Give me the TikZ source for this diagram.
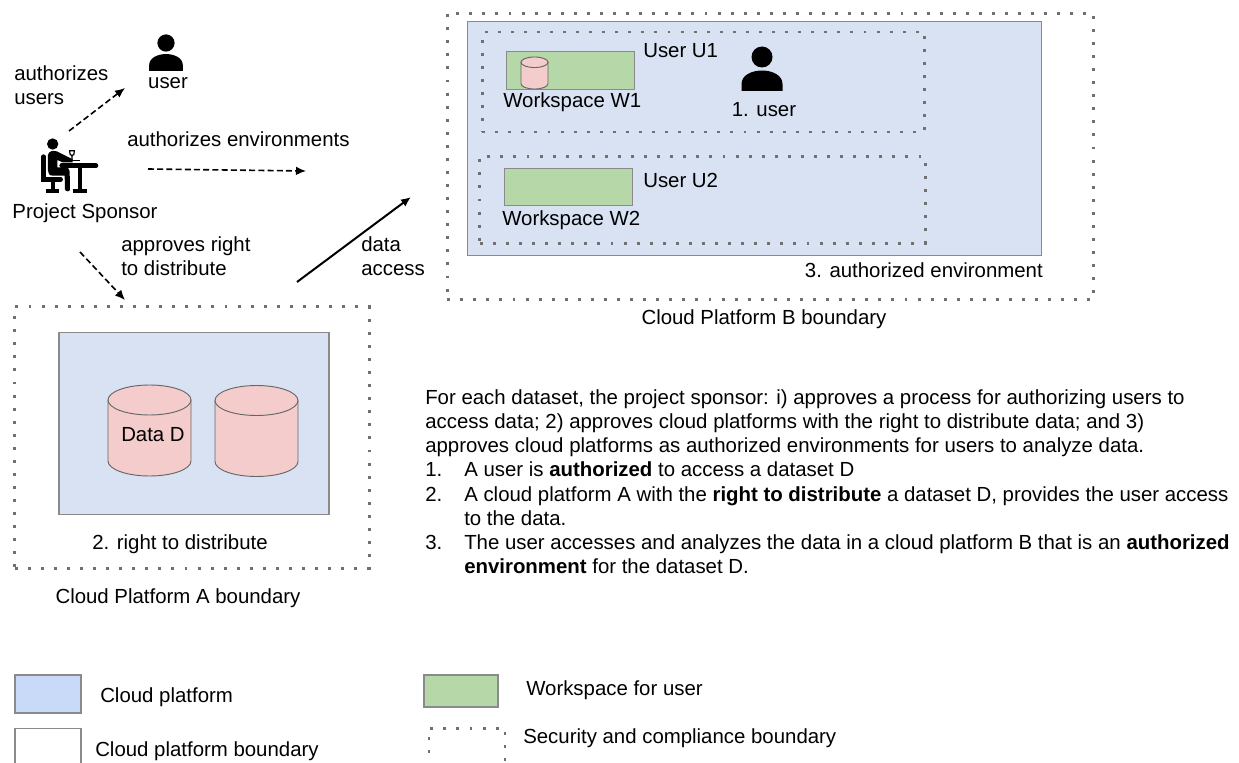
\documentclass[tikz,border=0pt]{standalone}
\usepackage{fontspec}
\setmainfont{Liberation Sans}
\usetikzlibrary{arrows.meta}

\definecolor{platformfill}{HTML}{D9E2F3}
\definecolor{legendfill}{HTML}{C9DAF8}
\definecolor{workfill}{HTML}{B6D7A8}
\definecolor{datafill}{HTML}{F4CCCC}
\definecolor{edgegray}{HTML}{8A8A8A}
\definecolor{dotgray}{HTML}{707070}

\newcommand{\itemnum}[1]{\makebox[29.25pt][l]{#1}}

\tikzset{
  box/.style = {draw=edgegray, line width=0.9pt, rectangle, inner sep=0pt},
  platform/.style = {box, fill=platformfill},
  workspace/.style = {box, fill=workfill},
  boundary/.style = {rectangle, inner sep=0pt, draw=dotgray, line width=2.2pt, dash pattern=on 2.2pt off 7.6pt},
  label/.style = {inner sep=0pt, anchor=west, align=left},
  mid/.style = {inner sep=0pt, align=center},
  para/.style = {inner sep=0pt, anchor=north west, align=left},
  dasharrow/.style = {->, line width=1.2pt, dash pattern=on 4.5pt off 2.4pt},
  datadrum/.pic = {
    \filldraw[draw=black!60, line width=0.7pt, fill=datafill] (-41.5,-30.5) -- (-41.5,30.5)
      .. controls (-41.5,38.8) and (-22.9,45.5) .. (0,45.5)
      .. controls (22.9,45.5) and (41.5,38.8) .. (41.5,30.5) -- (41.5,-30.5) -- cycle;
    \filldraw[draw=black!60, line width=0.7pt, fill=datafill] (0,-30.5) ellipse (41.5 and 15);
  },
  usericon/.pic = {
    \fill (0,0) circle (10.5);
    \fill (-20.5,34) -- (-20.5,27) .. controls (-20.5,18) and (-10,13.5) .. (0,13.5)
      .. controls (10,13.5) and (20.5,18) .. (20.5,27) -- (20.5,34) -- cycle;
  },
  sponsoricon/.pic = {
    % person at the desk, in units of a third of a pixel
    \fill (68,42) circle (17);
    \fill (54,74) .. controls (56,64) and (70,60) .. (80,64) -- (128,88) -- (128,97) -- (98,97)
      -- (82,90) -- (82,112) -- (106,112) .. controls (114,112) and (119,117) .. (119,124)
      -- (120,178) .. controls (120,186) and (106,186) .. (105,178) -- (104,137) -- (68,137)
      .. controls (58,137) and (54,130) .. (54,122) -- cycle;
    \draw[line width=3.4pt, line cap=round] (40,80) -- (40,148) -- (92,148);
    \draw[line width=3.2pt] (70,150) -- (70,182) (48,182) -- (88,182);
    \draw[line width=3.4pt, line cap=round] (95,107) -- (198,107);
    \draw[line width=3.4pt] (150,107) -- (150,182);
    \draw[line width=3.2pt] (128,182) -- (172,182);
    \draw[line width=0.9pt] (119,62) -- (120,72) -- (126,78) -- (132,72) -- (133,62) -- cycle (126,78) -- (126,90);
    \draw[line width=1.2pt] (126,92) -- (150,92);
  }
}

\begin{document}
\begin{tikzpicture}[x=0.75pt, y=-0.75pt, font=\fontsize{15.3}{18.2}\selectfont, >={Latex[length=7.5pt,width=6.5pt]}]
  \path[use as bounding box, clip] (0,0) rectangle (1239,763);

  % cloud platform A
  \node[boundary, minimum width=266pt, minimum height=196pt] (bounda) at (192,437.5) {};
  \node[platform, minimum width=202.5pt, minimum height=137pt] (plata) at (194,423.5) {};
  \pic at (149.5,430.5) {datadrum};
  \pic at (256.5,431) {datadrum};
  \node[mid] (datad) at (153,435) {Data D};
  \node[mid] (rightd) at (180,544) {2. right to distribute};
  \node[mid] (namea) at (178,598) {Cloud Platform A boundary};

  % cloud platform B
  \node[boundary, minimum width=485pt, minimum height=215pt] (boundb) at (770.5,156.5) {};
  \node[platform, minimum width=431pt, minimum height=175pt] (platb) at (754.5,138.5) {};
  \node[boundary, minimum width=332pt, minimum height=75pt] (userb1) at (703.5,82) {};
  \node[boundary, minimum width=334pt, minimum height=65pt] (userb2) at (702.5,200) {};
  \node[workspace, minimum width=96.5pt, minimum height=28pt] (work1) at (570.5,70.5) {};
  \node[workspace, minimum width=96.5pt, minimum height=27.5pt] (work2) at (568.5,187) {};
  \pic[xscale=0.325, yscale=0.352] at (534.5,73) {datadrum};
  \node[label] (namew1) at (503,102) {Workspace W1};
  \node[label] (nameu1) at (643,51) {User U1};
  \node[label] (namew2) at (502,220) {Workspace W2};
  \node[label] (nameu2) at (643,180) {User U2};
  \pic at (762,57) {usericon};
  \node[mid] (user1) at (764,110) {1. user};
  \node[label, anchor=east] (authenv) at (1043,270) {3. authorized environment};
  \node[mid] (nameb) at (764,319) {Cloud Platform B boundary};

  % sponsor and what it authorizes
  \pic[scale=0.3333] at (30,130) {sponsoricon};
  \node[mid] (sponsor) at (85,213) {Project Sponsor};
  \pic[scale=0.82] at (166,43) {usericon};
  \node[mid] (user) at (168,83) {user};
  \node[label] (authu) at (14,85) {authorizes\\users};
  \node[label] (authe) at (127,139) {authorizes environments};
  \node[label] (appr) at (121,256) {approves right\\to distribute};
  \node[label] (acc) at (361,256) {data\\access};

  \coordinate (u0) at (69,131);
  \coordinate (u1) at (125,88);
  \coordinate (e0) at (148,169);
  \coordinate (e1) at (306,171);
  \coordinate (r0) at (80,252);
  \coordinate (r1) at (125,300);
  \coordinate (d0) at (297,282);
  \coordinate (d1) at (411,197);

  \path
  (u0) edge[draw, dasharrow] (u1)
  (e0) edge[draw, dasharrow] (e1)
  (r0) edge[draw, dasharrow] (r1)
  (d0) edge[draw, ->, line width=1.5pt] (d1);

  % explanation
  \node[para] (intro) at (425,389) {For each dataset, the project sponsor: i) approves a process for authorizing users to\\
    access data; 2) approves cloud platforms with the right to distribute data; and 3)\\
    approves cloud platforms as authorized environments for users to analyze data.\\
    \itemnum{1.}A user is \textbf{authorized} to access a dataset D\\
    \itemnum{2.}A cloud platform A with the \textbf{right to distribute} a dataset D, provides the user access\\
    \itemnum{}to the data.\\
    \itemnum{3.}The user accesses and analyzes the data in a cloud platform B that is an \textbf{authorized}\\
    \itemnum{}\textbf{environment} for the dataset D.};

  % legend
  \node[box, fill=legendfill, minimum width=49.5pt, minimum height=28.5pt] (leg1) at (48,694) {};
  \node[label] (legt1) at (100,697) {Cloud platform};
  \node[box, fill=white, minimum width=49.5pt, minimum height=46pt] (leg2) at (48,759) {};
  \node[label] (legt2) at (95,751) {Cloud platform boundary};
  \node[workspace, minimum width=55.5pt, minimum height=24pt] (leg3) at (461,691) {};
  \node[label] (legt3) at (526,690) {Workspace for user};
  \node[boundary, minimum width=57pt, minimum height=46pt] (leg4) at (467,759) {};
  \node[label] (legt4) at (523,738) {Security and compliance boundary};
\end{tikzpicture}
\end{document}
